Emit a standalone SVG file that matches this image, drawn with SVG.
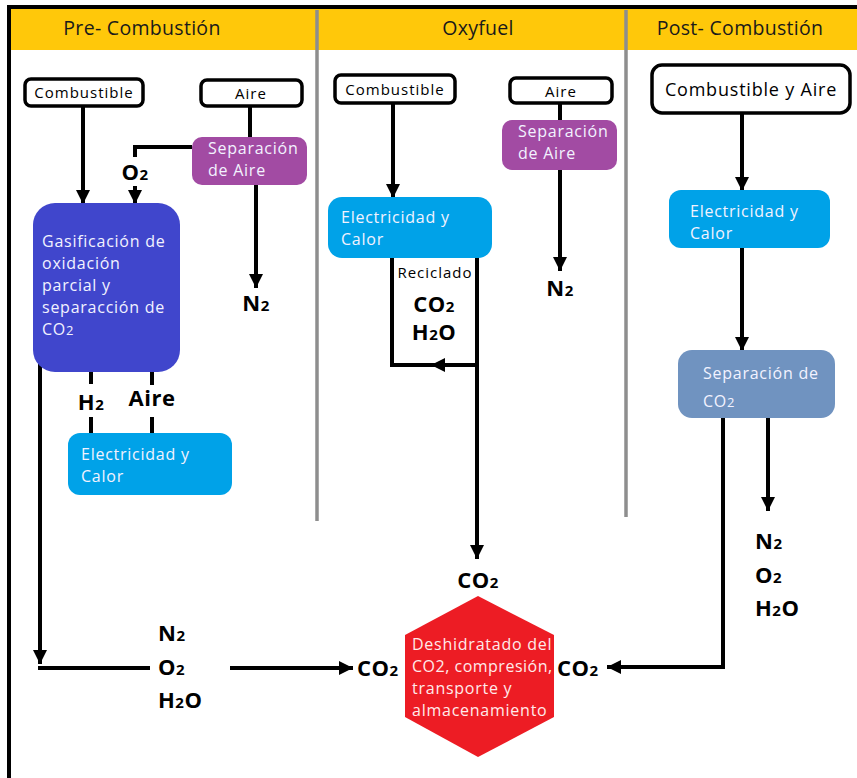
<svg xmlns="http://www.w3.org/2000/svg" width="857" height="778" viewBox="0 0 857 778">
<defs>
<marker id="ah" markerUnits="userSpaceOnUse" markerWidth="16" markerHeight="16" refX="14" refY="7" orient="auto">
<path d="M0,0 L14,7 L0,14 z" fill="#000"/>
</marker>
<style>
.hdr{font-family:"Open Sans",Lato,sans-serif;font-size:19.5px;letter-spacing:0.3px;fill:#1a1a1a;text-anchor:middle}
.wb{fill:#fff;stroke:#000;stroke-width:3.5}
.wt{font-family:"Open Sans",Lato,sans-serif;font-size:15px;letter-spacing:1px;fill:#000;text-anchor:middle}
.bt{font-family:"Open Sans",Lato,sans-serif;font-size:16px;letter-spacing:0.75px;fill:#f2f2ff}
.lb{font-family:"Open Sans",Lato,sans-serif;font-size:22px;font-weight:bold;letter-spacing:0.5px;fill:#000}
.sm{font-size:15px}
.ln{fill:none;stroke:#000;stroke-width:4}
.ar{fill:none;stroke:#000;stroke-width:4;marker-end:url(#ah)}
.dv{stroke:#8e8e8e;stroke-width:3.5}
</style>
</defs>
<rect x="0" y="0" width="857" height="778" fill="#fff"/>
<g id="frame">
<rect x="11" y="9" width="846" height="41" fill="#ffc80a"/>
<line x1="9" y1="6" x2="9" y2="778" stroke="#000" stroke-width="4"/>
<line x1="7" y1="7" x2="857" y2="7" stroke="#000" stroke-width="4"/>
<line class="dv" x1="317" y1="10" x2="317" y2="521"/>
<line class="dv" x1="626" y1="10" x2="626" y2="517"/>
<text class="hdr" x="142" y="35">Pre- Combustión</text>
<text class="hdr" x="478" y="35">Oxyfuel</text>
<text class="hdr" x="740" y="35">Post- Combustión</text>
</g>
<g id="connectors">
<line class="ln" x1="250" y1="106" x2="250" y2="137"/>
<line class="ar" x1="256" y1="185" x2="256" y2="288"/>
<path class="ln" d="M192,147 H135 V157"/>
<line class="ar" x1="135" y1="186" x2="135" y2="204"/>
<line class="ar" x1="83" y1="106" x2="83" y2="204"/>
<line class="ln" x1="91" y1="372" x2="91" y2="384"/>
<line class="ln" x1="91" y1="417" x2="91" y2="433"/>
<line class="ln" x1="152" y1="372" x2="152" y2="385"/>
<line class="ln" x1="152" y1="417" x2="152" y2="433"/>
<line class="ar" x1="40" y1="362" x2="40" y2="664"/>
<line class="ln" x1="38" y1="668" x2="150" y2="668"/>
<line class="ar" x1="230" y1="668" x2="353" y2="668"/>
<line class="ln" x1="560" y1="103" x2="560" y2="120"/>
<line class="ar" x1="560" y1="170" x2="560" y2="271"/>
<line class="ar" x1="393" y1="103" x2="393" y2="198"/>
<line class="ar" x1="477" y1="256" x2="477" y2="559"/>
<line class="ar" x1="477" y1="365" x2="431" y2="365"/>
<path class="ln" d="M440,365 H392 V258"/>
<line class="ar" x1="742" y1="113" x2="742" y2="191"/>
<line class="ar" x1="742" y1="248" x2="742" y2="351"/>
<line class="ar" x1="768" y1="418" x2="768" y2="511"/>
<path class="ar" d="M723,418 V667 H607"/>
</g>
<g id="pre-combustible">
<rect class="wb" x="25" y="79" width="118" height="27" rx="6"/>
<text class="wt" x="84" y="98">Combustible</text>
</g>
<g id="pre-aire">
<rect class="wb" x="201" y="80" width="101" height="26" rx="6"/>
<text class="wt" x="251" y="99">Aire</text>
</g>
<g id="pre-separacion-aire">
<rect x="192" y="137" width="115" height="48" rx="10" fill="#a24ba3"/>
<text class="bt" x="208" y="154">Separación</text>
<text class="bt" x="208" y="176">de Aire</text>
</g>
<g id="pre-labels">
<text class="lb" x="256" y="311" text-anchor="middle">N<tspan class="sm">2</tspan></text>
<text class="lb" x="135" y="180" text-anchor="middle">O<tspan class="sm">2</tspan></text>
<text class="lb" x="91" y="410" text-anchor="middle">H<tspan class="sm">2</tspan></text>
<text class="lb" x="152" y="406" text-anchor="middle">Aire</text>
<text class="lb" x="158" y="641">N<tspan class="sm">2</tspan></text>
<text class="lb" x="158" y="675">O<tspan class="sm">2</tspan></text>
<text class="lb" x="158" y="708">H<tspan class="sm">2</tspan>O</text>
<text class="lb" x="357" y="676">CO<tspan class="sm">2</tspan></text>
</g>
<g id="pre-gasificacion">
<rect x="33" y="203" width="147" height="169" rx="22" fill="#4046cc"/>
<text class="bt" x="42" y="247">Gasificación de</text>
<text class="bt" x="42" y="269">oxidación</text>
<text class="bt" x="42" y="291">parcial y</text>
<text class="bt" x="42" y="313">separacción de</text>
<text class="bt" x="42" y="335">CO<tspan style="font-size:13px">2</tspan></text>
</g>
<g id="pre-electricidad">
<rect x="68" y="433" width="164" height="62" rx="12" fill="#00a2e8"/>
<text class="bt" x="81" y="460">Electricidad y</text>
<text class="bt" x="81" y="482">Calor</text>
</g>
<g id="oxy-combustible">
<rect class="wb" x="335" y="75" width="120" height="28" rx="6"/>
<text class="wt" x="395" y="95">Combustible</text>
</g>
<g id="oxy-aire">
<rect class="wb" x="510" y="78" width="102" height="25" rx="6"/>
<text class="wt" x="561" y="97">Aire</text>
</g>
<g id="oxy-separacion-aire">
<rect x="502" y="120" width="115" height="50" rx="10" fill="#a24ba3"/>
<text class="bt" x="518" y="137">Separación</text>
<text class="bt" x="518" y="159">de Aire</text>
</g>
<g id="oxy-electricidad">
<rect x="328" y="197" width="164" height="61" rx="14" fill="#00a2e8"/>
<text class="bt" x="341" y="223">Electricidad y</text>
<text class="bt" x="341" y="245">Calor</text>
</g>
<g id="oxy-labels">
<text class="lb" x="560" y="296" text-anchor="middle">N<tspan class="sm">2</tspan></text>
<text x="435" y="278" text-anchor="middle" style="font-family:'Open Sans',Lato,sans-serif;font-size:15px;letter-spacing:1px;fill:#000">Reciclado</text>
<text class="lb" x="434" y="312" text-anchor="middle">CO<tspan class="sm">2</tspan></text>
<text class="lb" x="434" y="340" text-anchor="middle">H<tspan class="sm">2</tspan>O</text>
<text class="lb" x="478" y="588" text-anchor="middle">CO<tspan class="sm">2</tspan></text>
</g>
<g id="post-combustible-aire">
<rect class="wb" x="652" y="65" width="198" height="48" rx="10"/>
<text class="wt" x="751" y="96" style="font-size:18px;letter-spacing:0.8px">Combustible y Aire</text>
</g>
<g id="post-electricidad">
<rect x="669" y="190" width="161" height="58" rx="12" fill="#00a2e8"/>
<text class="bt" x="690" y="217">Electricidad y</text>
<text class="bt" x="690" y="239">Calor</text>
</g>
<g id="post-separacion-co2">
<rect x="678" y="350" width="157" height="68" rx="14" fill="#7093c0"/>
<text class="bt" x="703" y="379">Separación de</text>
<text class="bt" x="703" y="407">CO<tspan style="font-size:13px">2</tspan></text>
</g>
<g id="post-labels">
<text class="lb" x="755" y="549">N<tspan class="sm">2</tspan></text>
<text class="lb" x="755" y="583">O<tspan class="sm">2</tspan></text>
<text class="lb" x="755" y="616">H<tspan class="sm">2</tspan>O</text>
<text class="lb" x="557" y="676">CO<tspan class="sm">2</tspan></text>
</g>
<g id="almacenamiento">
<polygon points="478,596 554,635 554,717 478,757 405,717 405,635" fill="#ed1c24"/>
<text class="bt" x="412" y="650" style="fill:#ffeaea">Deshidratado del</text>
<text class="bt" x="412" y="672" style="fill:#ffeaea;letter-spacing:0.5px">CO2, compresión,</text>
<text class="bt" x="412" y="694" style="fill:#ffeaea">transporte y</text>
<text class="bt" x="412" y="716" style="fill:#ffeaea">almacenamiento</text>
</g>
</svg>
